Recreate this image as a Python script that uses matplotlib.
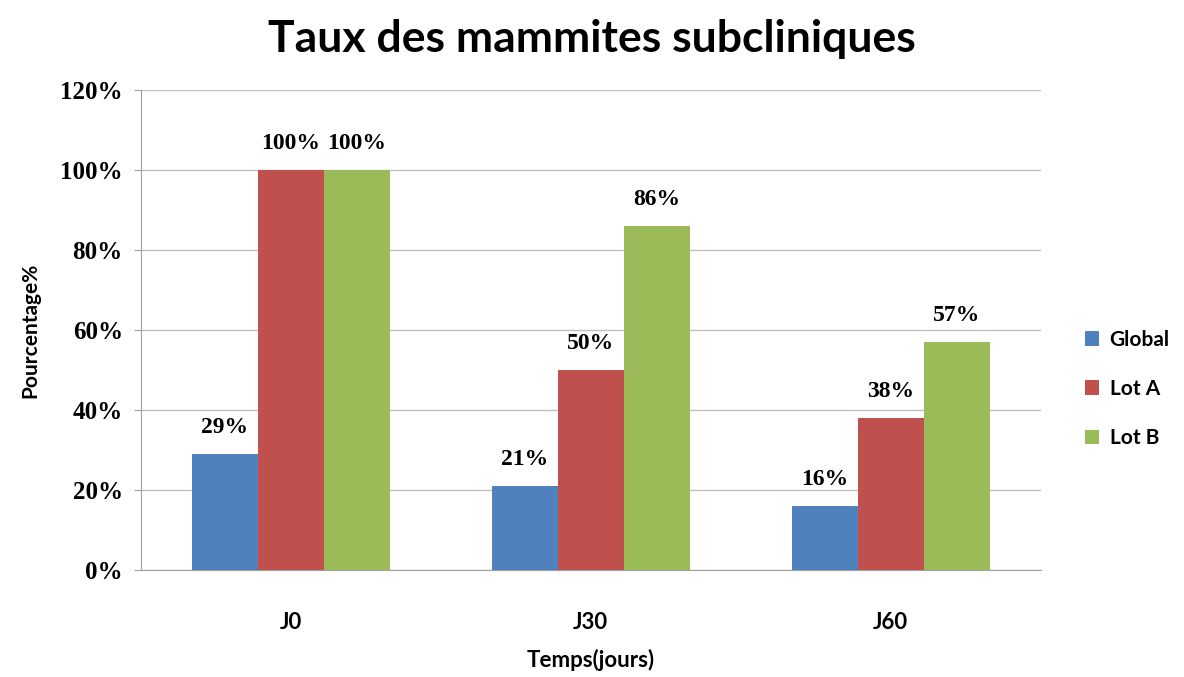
import matplotlib.pyplot as plt
import numpy as np

categories = ['J0', 'J30', 'J60']
global_vals = [29, 21, 16]
lot_a = [100, 50, 38]
lot_b = [100, 86, 57]
series_names = ['Global', 'Lot A', 'Lot B']
colors = ['#4F81BD', '#C0504D', '#9BBB59']

fig = plt.figure(figsize=(11.84, 6.77), dpi=100)
ax = fig.add_axes([0.119, 0.158, 0.760, 0.709])

x = np.arange(len(categories))
w = 0.22
serif = ['Liberation Serif', 'DejaVu Serif']
sans = ['Lato', 'DejaVu Sans']

for i, (vals, name, c) in enumerate(zip([global_vals, lot_a, lot_b], series_names, colors)):
    pos = x + (i - 1) * w
    ax.bar(pos, vals, w, color=c, label=name, zorder=3)
    for p, v in zip(pos, vals):
        ax.text(p, v + 4, f'{v}%', ha='center', va='bottom', fontsize=17,
                fontweight='bold', family=serif)

ax.set_xlim(-0.5, 2.5)
ax.set_ylim(0, 120)
ax.set_yticks(range(0, 121, 20))
ax.set_yticklabels([f'{t}%' for t in range(0, 121, 20)], fontsize=18,
                   fontweight='bold', family=serif)
ax.set_xticks(x)
ax.set_xticklabels(categories, fontsize=16, fontweight='bold', family=sans)
ax.tick_params(axis='x', length=0, pad=30)
ax.tick_params(axis='y', length=5, color='#a0a0a0', pad=8)
ax.grid(axis='y', color='#c0c0c0', linewidth=1, zorder=0)
for s in ['top', 'right']:
    ax.spines[s].set_visible(False)
for s in ['left', 'bottom']:
    ax.spines[s].set_color('#a0a0a0')

ax.set_xlabel('Temps(jours)', fontsize=16, fontweight='bold', family=sans, labelpad=12)
ax.set_ylabel('Pourcentage%', fontsize=15, fontweight='bold', family=sans, labelpad=14)
fig.suptitle('Taux des mammites subcliniques', fontsize=32, fontweight='bold',
             family=sans, y=0.972)

leg = ax.legend(loc='center left', bbox_to_anchor=(1.028, 0.377), frameon=False,
                prop={'family': sans, 'weight': 'bold', 'size': 15},
                handlelength=0.7, handleheight=0.7, labelspacing=1.4, handletextpad=0.5)

fig.savefig('out.png', dpi=100)
